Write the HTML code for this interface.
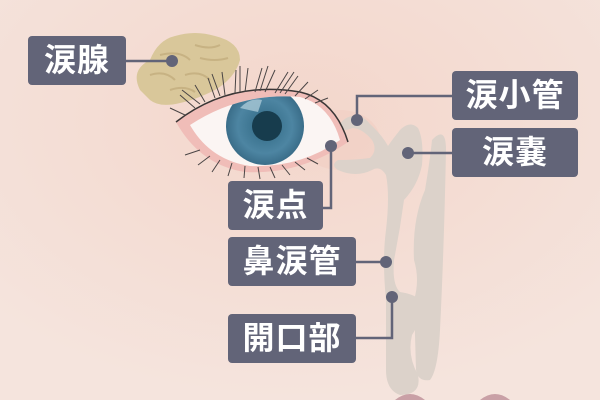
<!DOCTYPE html>
<html><head><meta charset="utf-8"><style>
html,body{margin:0;padding:0;}
body{width:600px;height:400px;overflow:hidden;background:#f4e1d9;}
.lb{position:absolute;background:#626478;color:#fff;border-radius:4px;font-family:"Liberation Sans","Noto Sans CJK JP",sans-serif;font-weight:bold;font-size:32px;line-height:49px;text-align:center;letter-spacing:1px;}
</style></head><body>
<svg width="600" height="400" style="position:absolute;left:0;top:0">
<defs>
<radialGradient id="bg" cx="0.5" cy="0.3" r="0.7"><stop offset="0" stop-color="#f3d6cb"/><stop offset="1" stop-color="#f5e4dd"/></radialGradient>
<radialGradient id="ir" cx="0.5" cy="0.5" r="0.5"><stop offset="0" stop-color="#2f6782"/><stop offset="0.7" stop-color="#4d85a2"/><stop offset="1" stop-color="#3a6d89"/></radialGradient>
<clipPath id="ey"><path d="M190,125 Q240,92 300,97 Q330,105 340,140 Q300,168 250,166 Q210,160 190,125Z"/></clipPath>
</defs>
<rect width="600" height="400" fill="url(#bg)"/>
<ellipse cx="340" cy="140" rx="40" ry="30" fill="#f1cfc3" opacity="0.6"/>
<path d="M140,90 Q130,70 150,60 Q158,40 175,36 Q195,30 215,36 Q240,42 240,60 Q235,78 215,90 Q195,100 180,103 Q160,108 150,100Z" fill="#d9c79a"/>
<path d="M150,75 Q165,70 175,80 M160,55 Q180,50 190,60 M195,45 Q210,50 220,45 M185,75 Q200,70 210,80 M170,90 Q185,85 195,92 M200,58 Q215,62 228,58" stroke="#c7b283" stroke-width="2" fill="none"/>
<path d="M432,140 Q446,125 446,150 Q444,250 440,330 Q438,370 430,380 Q418,382 416,370 L414,300 Q420,280 414,260 Q412,220 425,190 Q430,160 432,140Z" fill="#dcd2ca"/>
<path d="M338,128 Q342,118 352,116 Q362,114 370,124 Q382,135 388,146 Q392,140 400,130 Q410,120 418,128 Q424,140 422,165 Q418,185 404,200 Q400,230 394,260 Q392,285 400,292 Q414,294 420,300 Q422,320 412,335 Q407,355 418,375 Q422,395 400,395 Q386,390 386,370 L386,300 Q382,260 386,230 Q390,195 386,175 Q380,165 372,170 Q356,178 338,170 Q330,165 338,160 Q355,160 370,158 Q378,150 372,140 Q362,128 352,128 Q345,132 338,128Z" fill="#dcd2ca"/>
<path d="M176,122 Q230,80 300,92 Q335,100 348,142 Q300,175 245,172 Q200,165 176,122Z" fill="#f0bdb8"/>
<path d="M190,125 Q240,92 300,97 Q330,105 340,140 Q300,168 250,166 Q210,160 190,125Z" fill="#fbf5f3"/>
<g clip-path="url(#ey)">
<circle cx="265" cy="126" r="39" fill="url(#ir)"/>
<circle cx="267" cy="126" r="15" fill="#173c4d"/>
<path d="M240,108 Q250,97 262,100 L258,112 Z" fill="#a9c8d6" opacity="0.8"/>
</g>
<path d="M176,122 Q230,80 300,92 Q335,100 348,142" stroke="#3a3636" stroke-width="1.5" fill="none"/>
<g stroke="#4a4545" stroke-width="1" fill="none">
<path d="M185,115 L170,108 M195,108 L180,95 M205,102 L195,85 M215,98 L208,78 M225,95 L222,72 M235,93 L236,70 M245,92 L248,68 M255,92 L262,68 M265,92 L275,70 M275,93 L288,72 M285,94 L298,76 M295,96 L308,82 M305,99 L318,90 M315,103 L328,98 M200,104 L182,90 M220,96 L212,74 M240,92 L240,66 M260,91 L268,66 M280,93 L294,72"/>
<path d="M200,150 L185,155 M210,156 L198,165 M220,160 L212,172 M232,163 L228,176 M245,166 L244,178 M258,167 L260,179 M270,167 L275,178 M282,165 L290,175 M295,162 L305,170 M307,158 L318,164"/>
</g>
<g stroke="#626478" stroke-width="2.5" fill="none">
<path d="M126,61 H172"/><path d="M357,120 V96 H452"/><path d="M408,153 H452"/>
<path d="M331,146 V208 H323"/><path d="M386,262 H356"/><path d="M392,297 V338 H356"/>
</g>
<g fill="#626478"><circle cx="172" cy="61" r="6"/><circle cx="357" cy="120" r="6"/><circle cx="408" cy="153" r="6"/><circle cx="331" cy="146" r="6"/><circle cx="386" cy="262" r="6"/><circle cx="392" cy="297" r="6"/></g>
<path d="M395,400 Q410,388 425,400Z M480,400 Q495,388 510,400Z" fill="#c9a0a6"/>
</svg>
<div class="lb" style="left:28px;top:36px;width:98px;">涙腺</div>
<div class="lb" style="left:452px;top:71px;width:126px;">涙小管</div>
<div class="lb" style="left:452px;top:128px;width:126px;">涙嚢</div>
<div class="lb" style="left:228px;top:181px;width:95px;">涙点</div>
<div class="lb" style="left:228px;top:237px;width:128px;">鼻涙管</div>
<div class="lb" style="left:228px;top:314px;width:128px;">開口部</div>
</body></html>
